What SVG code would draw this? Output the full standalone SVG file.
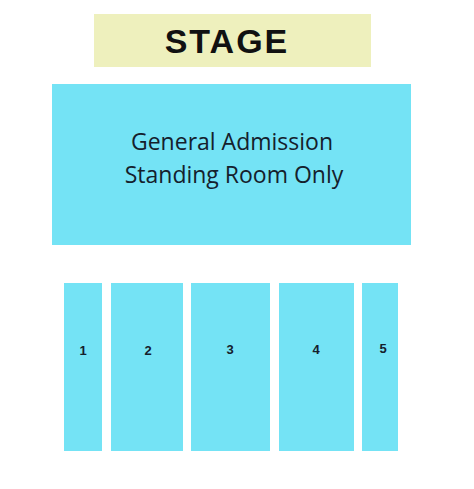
<svg xmlns="http://www.w3.org/2000/svg" width="474" height="489" viewBox="0 0 474 489">
<style>
.sec{fill:#74e3f5}
.num{font-family:"Liberation Sans",Arial,sans-serif;font-weight:bold;font-size:13px;fill:#14202c;text-anchor:middle}
.ga{font-family:"Open Sans","Noto Sans",sans-serif;font-size:23px;fill:#14202c;text-anchor:middle}
</style>
<rect width="474" height="489" fill="#ffffff"/>
<g id="stage">
<rect x="94" y="14" width="277" height="53" fill="#eef0bd"/>
<text x="227" y="53" font-family="'Liberation Sans',Arial,sans-serif" font-weight="bold" font-size="34" letter-spacing="2" fill="#111" text-anchor="middle">STAGE</text>
</g>
<g id="general-admission">
<rect class="sec" x="52" y="84" width="359" height="161"/>
<text class="ga" x="232" y="150">General Admission</text>
<text class="ga" x="234" y="183">Standing Room Only</text>
</g>
<g id="section-1"><rect class="sec" x="64" y="283" width="38" height="168"/><text class="num" x="83" y="355">1</text></g>
<g id="section-2"><rect class="sec" x="111" y="283" width="72" height="168"/><text class="num" x="148" y="355">2</text></g>
<g id="section-3"><rect class="sec" x="191" y="283" width="79" height="168"/><text class="num" x="230" y="354">3</text></g>
<g id="section-4"><rect class="sec" x="279" y="283" width="75" height="168"/><text class="num" x="316" y="354">4</text></g>
<g id="section-5"><rect class="sec" x="362" y="283" width="36" height="168"/><text class="num" x="383" y="353">5</text></g>
<g id="connectors"/>
</svg>
